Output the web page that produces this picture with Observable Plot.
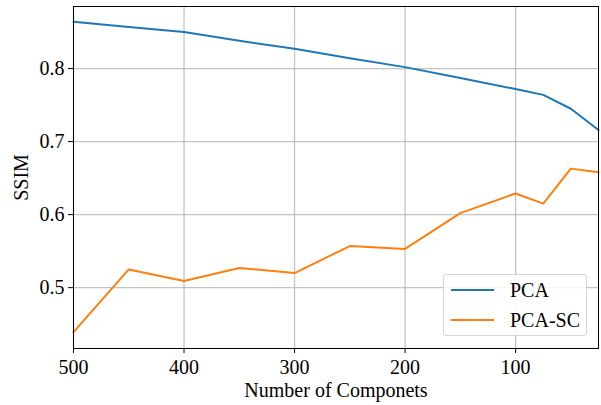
<!DOCTYPE html>
<html>
<head>
<meta charset="utf-8">
<script src="https://cdn.jsdelivr.net/npm/d3@7"></script>
<script src="https://cdn.jsdelivr.net/npm/@observablehq/plot@0.6"></script>
<style>
  html, body { margin: 0; padding: 0; background: #fff; }
  #wrap { position: relative; width: 601px; height: 405px; font-family: "Liberation Serif", "Times New Roman", serif; }
  #wrap svg, #wrap svg text { font-family: "Liberation Serif", "Times New Roman", serif !important; }
  .legend { position: absolute; left: 443px; top: 274px; width: 144px; height: 62px;
    border: 1px solid #d6d6d6; border-radius: 3px; background: rgba(255,255,255,0.85); box-sizing: border-box; }
  .item { position: absolute; left: 7px; height: 20px; display: flex; align-items: center; font-size: 20px; color: #000; }
  .sw { width: 43px; height: 0; border-top: 2px solid; margin-right: 16px; }
</style>
</head>
<body>
<div id="wrap"></div>
<script>
const components = [500, 450, 400, 350, 300, 250, 200, 150, 100, 75, 50, 25];
const pca   = [0.864, 0.857, 0.850, 0.838, 0.827, 0.814, 0.802, 0.787, 0.772, 0.764, 0.745, 0.716];
const pcaSC = [0.439, 0.525, 0.509, 0.527, 0.520, 0.557, 0.553, 0.602, 0.629, 0.615, 0.663, 0.658];
const seriesNames = ["PCA", "PCA-SC"];
const seriesColors = ["#1f77b4", "#ff7f0e"];
const xTicks = [500, 400, 300, 200, 100];
const yTicks = [0.5, 0.6, 0.7, 0.8];

const data = [];
components.forEach((c, i) => {
  data.push({x: c, y: pca[i], s: seriesNames[0]});
  data.push({x: c, y: pcaSC[i], s: seriesNames[1]});
});

const chart = Plot.plot({
  width: 601,
  height: 405,
  marginLeft: 73,
  marginRight: 3,
  marginTop: 6,
  marginBottom: 57,
  style: { fontFamily: "'Liberation Serif', 'Times New Roman', serif", fontSize: "20px", color: "#000", background: "#fff", overflow: "visible" },
  x: { domain: [500, 25], ticks: xTicks },
  y: { domain: [0.4167, 0.885], ticks: yTicks },
  color: { domain: seriesNames, range: seriesColors },
  marks: [
    Plot.gridX(xTicks, { stroke: "#b0b0b0", strokeOpacity: 0.75, strokeWidth: 1.3 }),
    Plot.gridY(yTicks, { stroke: "#b0b0b0", strokeOpacity: 0.75, strokeWidth: 1.3 }),
    Plot.line(data, { x: "x", y: "y", z: "s", stroke: "s", strokeWidth: 2 }),
    Plot.frame({ stroke: "#000", strokeWidth: 1 }),
    Plot.axisX(xTicks, { tickSize: 5, tickPadding: 6, fontSize: 20, label: "Number of Componets", labelAnchor: "center", labelArrow: "none", labelOffset: 48 }),
    Plot.axisY(yTicks, { tickSize: 5, tickPadding: 4, fontSize: 20, tickFormat: d => d.toFixed(1), label: "SSIM", labelAnchor: "center", labelArrow: "none", labelOffset: 60 })
  ]
});
const wrap = document.getElementById("wrap");
wrap.appendChild(chart);

const leg = document.createElement("div");
leg.className = "legend";
seriesNames.forEach((n, i) => {
  const it = document.createElement("div");
  it.className = "item";
  it.style.top = (5 + i * 30) + "px";
  const sw = document.createElement("span");
  sw.className = "sw";
  sw.style.borderTopColor = seriesColors[i];
  it.appendChild(sw);
  it.appendChild(document.createTextNode(n));
  leg.appendChild(it);
});
wrap.appendChild(leg);
</script>
</body>
</html>
